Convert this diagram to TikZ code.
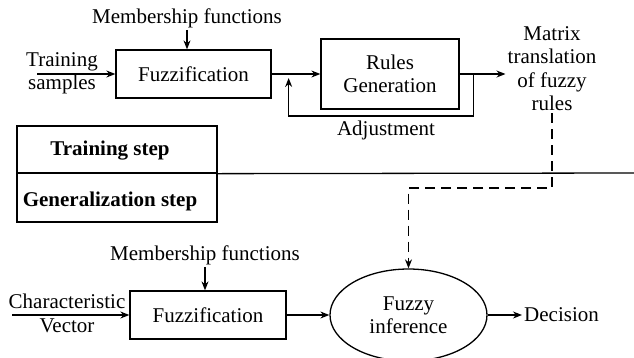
\documentclass[tikz,border=0pt]{standalone}
\usepackage{fontspec}
\setmainfont{Liberation Serif}
\usetikzlibrary{arrows.meta,positioning,calc,shapes.geometric}
\tikzset{
  every picture/.style={font=\fontsize{21}{23.5}\selectfont},
  block/.style={draw,line width=1.3pt,minimum width=155pt,minimum height=48pt,inner sep=0pt,align=center},
  stepbox/.style={draw,line width=1.3pt,minimum width=200pt,inner sep=0pt},
  steptext/.style={font=\fontsize{21}{23.5}\selectfont\bfseries,inner sep=0pt},
  txt/.style={align=center,inner sep=2pt},
  link/.style={line width=1.2pt,-{Stealth[length=9pt,width=7pt]}},
  feed/.style={link,dash pattern=on 10pt off 6pt},
}

\begin{document}
\begin{tikzpicture}[x=1pt,y=-1pt]
  \useasboundingbox (0,0) rectangle (634,357);
  % training chain
  \node[txt] (memA) at (187,18) {Membership functions};
  \node[block] (fuzzA) at (193.5,74) {Fuzzification};
  \node[txt] (train) at (62,73.5) {Training\\samples};
  \coordinate (trainIn) at (37,74);
  \node[block,minimum width=138pt,minimum height=70pt] (rules) at (390,74) {Rules\\Generation};
  \node[txt] (matrix) at (552,68.5) {Matrix\\translation\\of fuzzy\\rules};
  \node[txt] (adjust) at (386,130) {Adjustment};
  \draw[link] (trainIn) -- (fuzzA.west);
  \draw[link] (memA.south) -- (memA.south |- fuzzA.north);
  \draw[link] (fuzzA.east) -- (fuzzA.east -| rules.west);
  \draw[link] (rules.east) -- (rules.east -| matrix.west);
  \draw[link] ([xshift=14pt]rules.east) -- ++(0,42) -| ([xshift=17pt,yshift=-4pt]fuzzA.east);

  % the two steps
  \node[stepbox,minimum height=47pt] (trainstep) at (117,149.5) {};
  \node[stepbox,minimum height=49pt] (genstep) at (117,197.5) {};
  \node[steptext] (trainlbl) at (110,151) {Training step};
  \node[steptext] (genlbl) at (110,201) {Generalization step};
  \coordinate (rightEdge) at (634,173);
  \draw[line width=1.3pt] (trainstep.south east) -- (rightEdge);

  % generalization chain
  \node[txt] (memB) at (205,255) {Membership functions};
  \node[block,minimum width=156pt] (fuzzB) at (208,315) {Fuzzification};
  \node[txt] (charvec) at (67,313.5) {Characteristic\\Vector};
  \coordinate (charIn) at (12,315);
  \node[draw,ellipse,line width=1.3pt,minimum width=157pt,minimum height=92pt,inner sep=0pt,align=center] (infer) at (408.5,315) {Fuzzy\\inference};
  \node[txt,anchor=west] (decision) at (522,315) {Decision};
  \draw[link] (charIn) -- (fuzzB.west);
  \draw[link] (memB.south) -- (memB.south |- fuzzB.north);
  \draw[link] (fuzzB.east) -- (infer.west);
  \draw[link] (infer.east) -- (decision.west);

  % rules handed over to the inference
  \draw[feed] (matrix.south) -- ++(0,75) -| (infer.north);
\end{tikzpicture}
\end{document}
